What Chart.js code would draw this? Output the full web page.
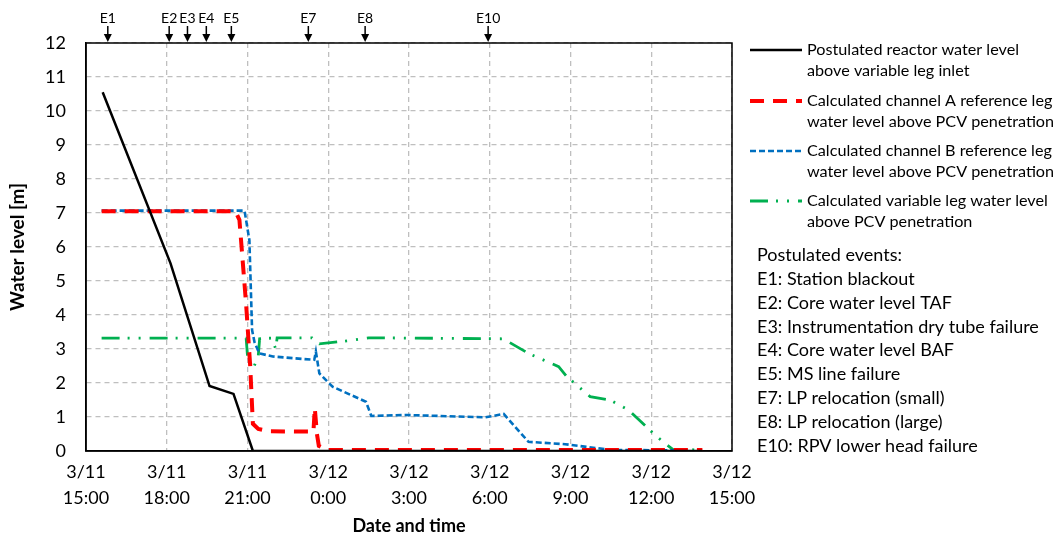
<!DOCTYPE html>
<html>
<head>
<meta charset="utf-8">
<script src="https://cdn.jsdelivr.net/npm/chart.js@4/dist/chart.umd.min.js"></script>
<style>
  html, body { margin: 0; padding: 0; background: #fff; }
  #wrap { width: 1062px; height: 536px; position: relative; }
</style>
</head>
<body>
<div id="wrap"><canvas id="chart" width="1062" height="536"></canvas></div>
<script>
// hours since 3/11 15:00
const reactorTime = [0.62, 3.14, 4.59, 5.48, 6.2, 22.9];
const reactorLevel = [10.55, 5.52, 1.91, 1.68, 0.0, 0.0];

const chanATime = [0.58, 5.55, 5.7, 5.95, 6.1, 6.2, 6.4, 6.8, 8.45, 8.5, 8.58, 8.65, 8.96, 22.9];
const chanALevel = [7.05, 7.05, 6.8, 4.3, 2.5, 0.8, 0.65, 0.58, 0.57, 1.26, 0.5, 0.15, 0.03, 0.03];

const chanBTime = [0.58, 5.89, 6.07, 6.17, 6.26, 6.44, 6.94, 8.48, 8.54, 8.67, 9.16, 10.4, 10.6, 11.88, 14.84, 15.52, 16.44, 17.8, 19.53, 21.9];
const chanBLevel = [7.07, 7.07, 6.2, 3.56, 3.2, 2.87, 2.78, 2.68, 2.92, 2.28, 1.89, 1.45, 1.03, 1.06, 0.99, 1.09, 0.27, 0.2, 0.03, 0.02];

const varLegTime = [0.58, 5.95, 6.0, 6.2, 6.4, 6.45, 6.9, 7.05, 7.1, 8.4, 8.67, 9.8, 10.5, 15.5, 16.44, 17.56, 17.86, 18.73, 19.47, 20.15, 21.14, 21.5, 21.8, 22.9];
const varLegLevel = [3.32, 3.32, 2.8, 2.4, 2.8, 3.3, 3.32, 3.0, 3.33, 3.33, 3.15, 3.25, 3.33, 3.3, 2.87, 2.48, 2.19, 1.6, 1.5, 1.21, 0.47, 0.23, 0.05, 0.03];

const timeTicks = [0, 3, 6, 9, 12, 15, 18, 21, 24];
const timeLabels = [["3/11", "15:00"], ["3/11", "18:00"], ["3/11", "21:00"], ["3/12", "0:00"], ["3/12", "3:00"],
                    ["3/12", "6:00"], ["3/12", "9:00"], ["3/12", "12:00"], ["3/12", "15:00"]];

const eventTime = [0.81, 3.09, 3.77, 4.47, 5.4, 8.26, 10.37, 14.94];
const eventName = ["E1", "E2", "E3", "E4", "E5", "E7", "E8", "E10"];

const seriesLabels = [
  ["Postulated reactor water level", "above variable leg inlet"],
  ["Calculated channel A reference leg", "water level above PCV penetration"],
  ["Calculated channel B reference leg", "water level above PCV penetration"],
  ["Calculated variable leg water level", "above PCV penetration"]
];
const eventNotes = [
  "Postulated events:",
  "E1: Station blackout",
  "E2: Core water level TAF",
  "E3: Instrumentation dry tube failure",
  "E4: Core water level BAF",
  "E5: MS line failure",
  "E7: LP relocation (small)",
  "E8: LP relocation (large)",
  "E10: RPV lower head failure"
];

const FONT = "Lato, 'Noto Sans', sans-serif";

function pts(xs, ys) {
  return xs.map((x, i) => ({ x: x, y: ys[i] }));
}

const datasets = [
  { data: pts(reactorTime, reactorLevel), borderColor: "#000000", borderWidth: 2.5, borderDash: [] },
  { data: pts(chanATime, chanALevel), borderColor: "#ff0000", borderWidth: 4, borderDash: [14, 9] },
  { data: pts(chanBTime, chanBLevel), borderColor: "#0070c0", borderWidth: 2.6, borderDash: [6, 3] },
  { data: pts(varLegTime, varLegLevel), borderColor: "#00b050", borderWidth: 2.8, borderDash: [18, 8, 2, 9, 2, 9] }
].map((d, i) => Object.assign(d, { label: seriesLabels[i].join(" "), pointRadius: 0, fill: false, tension: 0 }));

// frame, event arrows and the legend to the right
const extras = {
  id: "extras",
  afterDraw(chart) {
    const ctx = chart.ctx;
    const a = chart.chartArea;
    const xs = chart.scales.x;
    ctx.save();
    ctx.strokeStyle = "#000";
    ctx.lineWidth = 1.5;
    ctx.strokeRect(a.left, a.top, a.right - a.left, a.bottom - a.top);

    // events
    ctx.font = "14px " + FONT;
    ctx.textAlign = "center";
    ctx.textBaseline = "middle";
    ctx.fillStyle = "#000";
    eventTime.forEach((t, i) => {
      const x = xs.getPixelForValue(t);
      ctx.fillText(eventName[i], x, 18);
      ctx.beginPath();
      ctx.lineWidth = 1.5;
      ctx.moveTo(x, 26);
      ctx.lineTo(x, 38);
      ctx.stroke();
      ctx.beginPath();
      ctx.moveTo(x - 4, 34);
      ctx.lineTo(x + 4, 34);
      ctx.lineTo(x, 42);
      ctx.closePath();
      ctx.fill();
    });

    // legend
    const lx = a.right + 18;
    const tx = a.right + 75;
    const rowY = [50, 101, 151, 201];
    ctx.textAlign = "left";
    ctx.font = "16.2px " + FONT;
    chart.data.datasets.forEach((ds, i) => {
      const y = rowY[i];
      ctx.beginPath();
      ctx.strokeStyle = ds.borderColor;
      ctx.lineWidth = ds.borderWidth;
      ctx.setLineDash(ds.borderDash);
      ctx.moveTo(lx, y);
      ctx.lineTo(lx + 52, y);
      ctx.stroke();
      ctx.setLineDash([]);
      ctx.fillStyle = "#000";
      ctx.fillText(seriesLabels[i][0], tx, y);
      ctx.fillText(seriesLabels[i][1], tx, y + 21);
    });
    ctx.font = "18px " + FONT;
    eventNotes.forEach((s, i) => {
      ctx.fillText(s, a.right + 25, 255 + i * 23.9);
    });
    ctx.restore();
  }
};

new Chart(document.getElementById("chart"), {
  type: "line",
  data: { datasets: datasets },
  options: {
    responsive: false,
    animation: false,
    layout: { padding: { top: 43, right: 330, left: 0, bottom: 0 } },
    plugins: { legend: { display: false }, tooltip: { enabled: false } },
    scales: {
      x: {
        type: "linear",
        min: 0,
        max: 24,
        afterBuildTicks: (s) => { s.ticks = timeTicks.map(v => ({ value: v })); },
        afterFit: (s) => { s.height = 85; },
        ticks: {
          callback: (v) => timeLabels[timeTicks.indexOf(v)],
          font: { family: FONT, size: 18, lineHeight: 1.4 },
          color: "#000",
          padding: 9,
          maxRotation: 0
        },
        grid: { color: "#bfbfbf", lineWidth: 1.3, drawTicks: false },
        border: { color: "#000", width: 1.5, dash: [5, 4] },
        title: { display: true, text: "Date and time", color: "#000", font: { family: FONT, size: 18, weight: "bold", lineHeight: 1.1 }, padding: { top: 0, bottom: 0 } }
      },
      y: {
        min: 0,
        max: 12,
        afterFit: (s) => { s.width = 86; },
        ticks: { stepSize: 1, color: "#000", font: { family: FONT, size: 18 }, padding: 20 },
        grid: { color: "#bfbfbf", lineWidth: 1.3, drawTicks: false },
        border: { color: "#000", width: 1.5, dash: [5, 4] },
        title: { display: true, text: "Water level [m]", color: "#000", font: { family: FONT, size: 19, weight: "bold" }, padding: { top: 6, bottom: 4 } }
      }
    }
  },
  plugins: [extras]
});
</script>
</body>
</html>
